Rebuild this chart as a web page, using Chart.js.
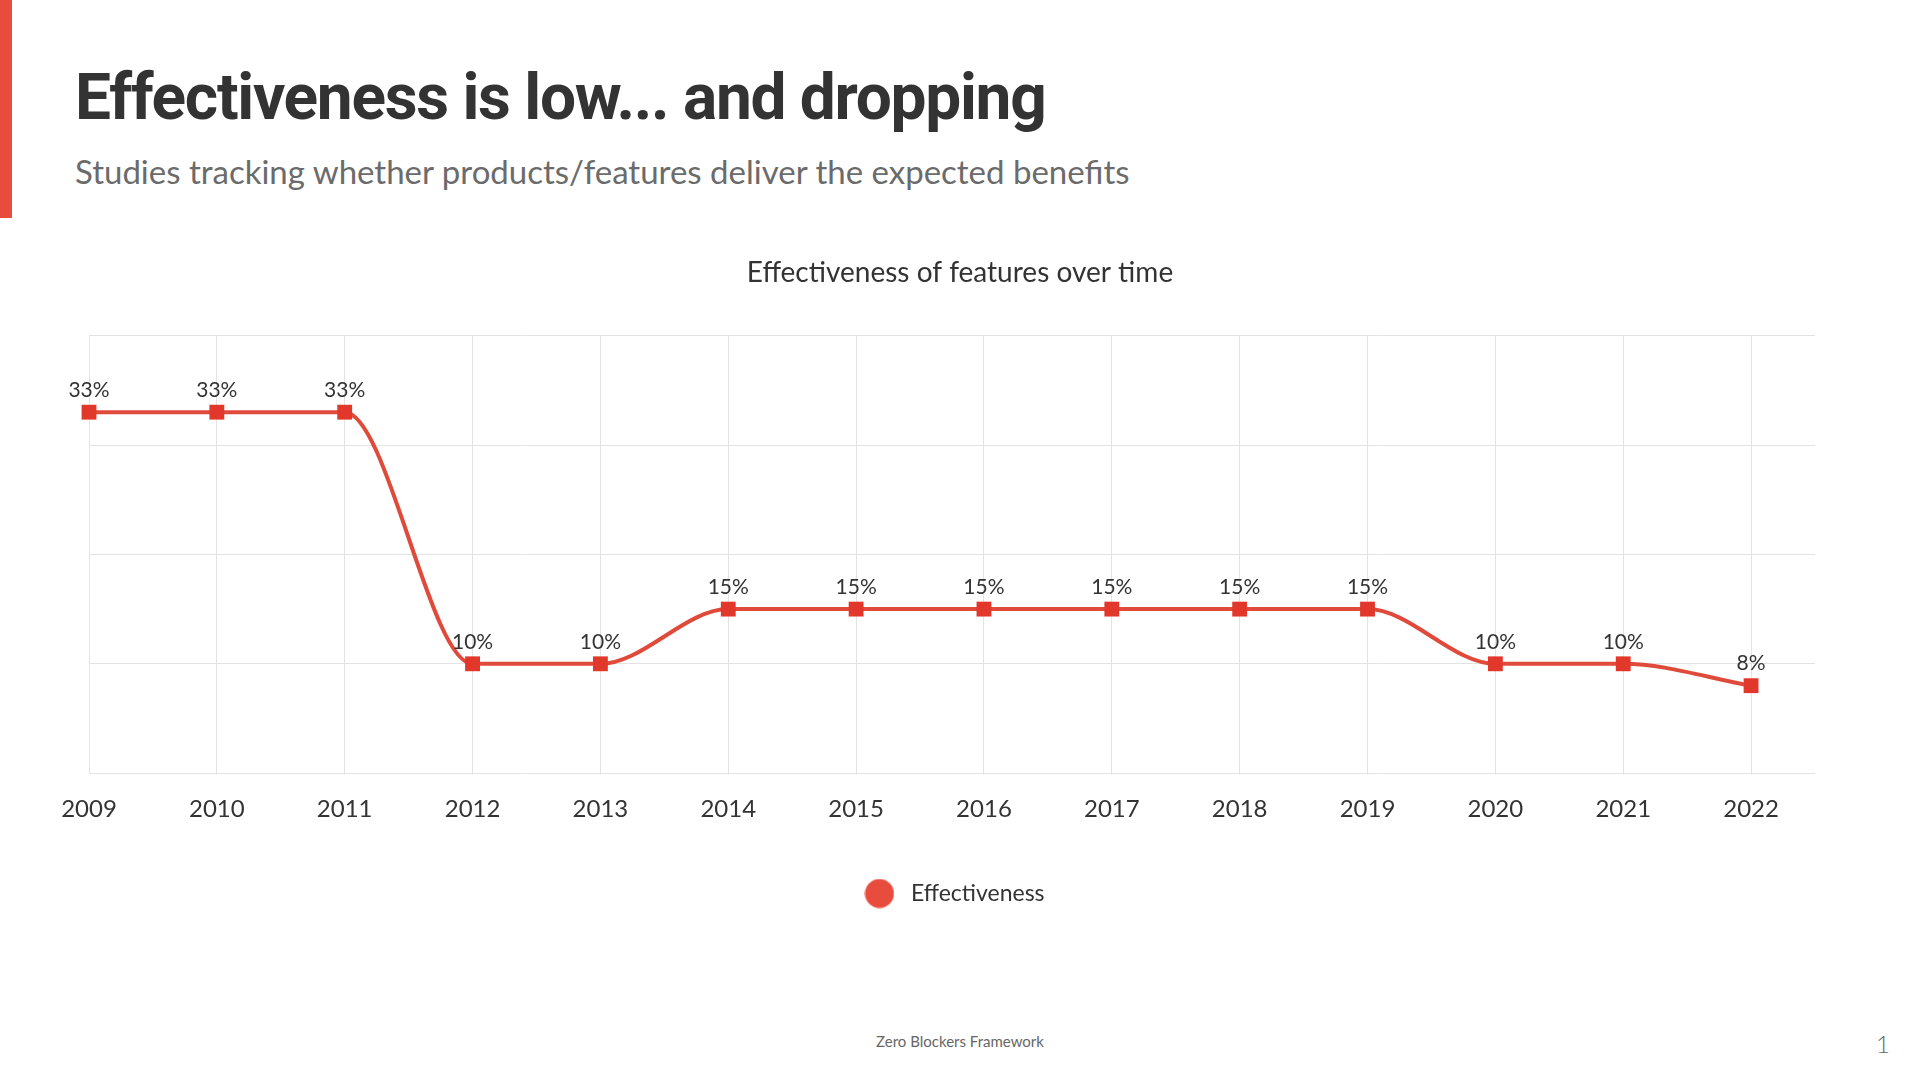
<!DOCTYPE html>
<html>
<head>
<meta charset="utf-8">
<script src="https://cdn.jsdelivr.net/npm/chart.js@4/dist/chart.umd.min.js"></script>
<style>
    html, body { margin: 0; padding: 0; background: #fff; }
    body { width: 1920px; height: 1080px; position: relative; overflow: hidden; font-family: Lato, sans-serif; }
    .accent { position: absolute; left: 0; top: 0; width: 12px; height: 218px; background: #e84c3d; }
    h1 { position: absolute; left: 75px; top: 66px; margin: 0; font: 700 64px/1 Roboto, sans-serif; letter-spacing: -1.3px; color: #333; }
    .sub { position: absolute; left: 75px; top: 155px; margin: 0; font: 400 33px/1 Lato, sans-serif; color: #6b6b6b; }
    .chart-box { position: absolute; left: 0; top: 230px; width: 1920px; height: 700px; }
    .footer { position: absolute; left: 0; width: 1920px; top: 1034px; text-align: center; font: 400 15px/1 Lato, sans-serif; color: #666; }
    .page { position: absolute; left: 1876px; top: 1032px; font: 300 24px/1 Lato, sans-serif; color: #666; }
</style>
</head>
<body>
<div class="accent"></div>
<h1>Effectiveness is low... and dropping</h1>
<p class="sub">Studies tracking whether products/features deliver the expected benefits</p>
<div class="chart-box"><canvas id="effChart"></canvas></div>
<div class="footer">Zero Blockers Framework</div>
<div class="page">1</div>

<script>
// Données
const years = [2009, 2010, 2011, 2012, 2013, 2014, 2015, 2016, 2017, 2018, 2019, 2020, 2021, 2022];
const effectiveness = [33, 33, 33, 10, 10, 15, 15, 15, 15, 15, 15, 10, 10, 8];
const seriesLabel = 'Effectiveness';
const chartTitle = 'Effectiveness of features over time';

const RED_LINE = '#e04a3b';
const RED_POINT = '#e2382c';
const GRID = '#e3e3e3';

// Pastille ronde de la légende (canvas pour garder un vrai cercle)
const legendDot = document.createElement('canvas');
legendDot.width = 30;
legendDot.height = 30;
(() => {
    const c = legendDot.getContext('2d');
    c.fillStyle = '#e84c3d';
    c.beginPath();
    c.arc(15, 15, 14.5, 0, Math.PI * 2);
    c.fill();
})();

// Étiquettes de valeur au-dessus des points
const valueLabels = {
    id: 'valueLabels',
    afterDatasetsDraw(chart) {
        const ctx = chart.ctx;
        const meta = chart.getDatasetMeta(0);
        ctx.save();
        ctx.font = "21px Lato, sans-serif";
        ctx.fillStyle = '#333';
        ctx.textAlign = 'center';
        ctx.textBaseline = 'middle';
        meta.data.forEach((pt, i) => {
            ctx.fillText(effectiveness[i] + '%', pt.x, pt.y - 22);
        });
        ctx.restore();
    }
};

new Chart(document.getElementById('effChart'), {
    type: 'line',
    data: {
        datasets: [{
            label: seriesLabel,
            data: years.map((y, i) => ({ x: y, y: effectiveness[i] })),
            borderColor: RED_LINE,
            backgroundColor: '#e84c3d',
            borderWidth: 4,
            cubicInterpolationMode: 'monotone',
            pointStyle: 'rect',
            pointRadius: 10.5,
            pointHoverRadius: 10.5,
            pointBackgroundColor: RED_POINT,
            pointBorderWidth: 0,
            clip: false
        }]
    },
    options: {
        responsive: true,
        maintainAspectRatio: false,
        animation: false,
        // marges symétriques pour centrer le titre, l'axe y (invisible) à droite compense
        layout: { padding: { left: 89, right: 89, top: 0, bottom: 15 } },
        scales: {
            x: {
                type: 'linear',
                min: 2009,
                max: 2022.5,
                afterBuildTicks: axis => { axis.ticks = years.map(v => ({ value: v })); },
                ticks: {
                    autoSkip: false,
                    maxRotation: 0,
                    padding: 22,
                    color: '#333',
                    font: { size: 24, family: "Lato, sans-serif" },
                    callback: v => String(v)
                },
                grid: { color: GRID, drawTicks: false },
                border: { display: false }
            },
            y: {
                position: 'right',
                min: 0,
                max: 40,
                afterFit: axis => { axis.width = 16; },
                ticks: { display: false, stepSize: 10 },
                grid: { color: GRID, drawTicks: false },
                border: { display: false }
            }
        },
        plugins: {
            title: {
                display: true,
                text: chartTitle,
                color: '#333',
                font: { size: 28, weight: '400', family: "Lato, sans-serif" },
                padding: { top: 26, bottom: 46 }
            },
            legend: {
                position: 'bottom',
                fullSize: false,
                labels: {
                    usePointStyle: true,
                    pointStyle: legendDot,
                    pointStyleWidth: 40,
                    color: '#333',
                    padding: 36,
                    font: { size: 23, family: "Lato, sans-serif" }
                }
            },
            tooltip: { enabled: false }
        }
    },
    plugins: [valueLabels]
});
</script>
</body>
</html>
